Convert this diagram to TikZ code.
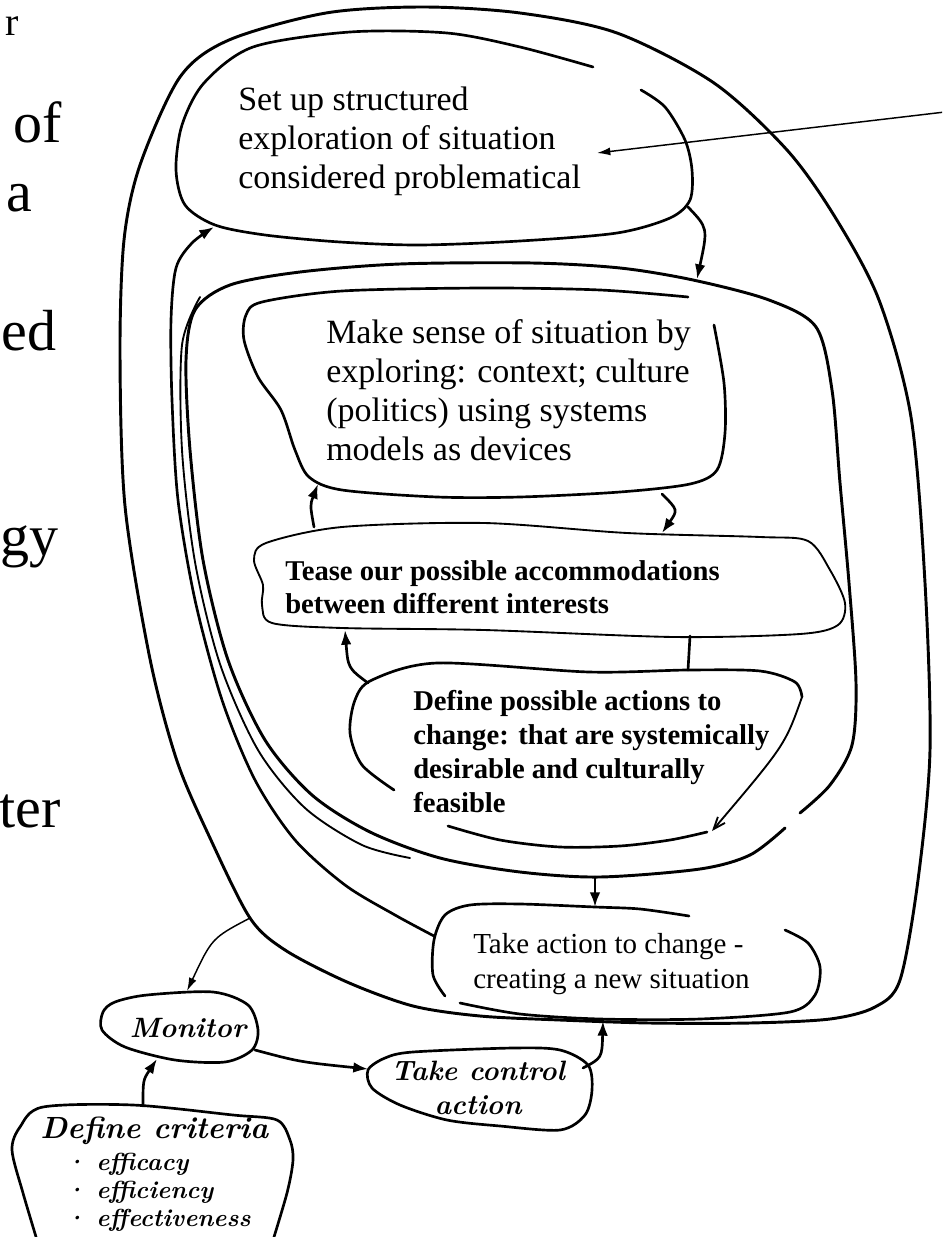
\documentclass[tikz,border=0pt]{standalone}
\usepackage{fontspec}
\newfontfamily\typefont{Liberation Serif}
\usetikzlibrary{arrows.meta}

\begin{document}
\begin{tikzpicture}[>=Latex, x=0.75pt, y=-0.75pt,
  loopline/.style={line width=2.2pt, line cap=round, line join=round},
  blob/.style={line width=2pt, line cap=round, line join=round},
  thinblob/.style={line width=1.4pt, line cap=round, line join=round},
  flow/.style={line width=2pt, line cap=round, -{Latex[length=11pt,width=8pt]}},
  pointer/.style={line width=1.1pt, -{Latex[length=10pt,width=6pt]}},
  typed/.style={anchor=north west, align=left, inner sep=0pt,
    font=\typefont\fontsize{25.5}{29.25}\selectfont},
  typedbold/.style={anchor=north west, align=left, inner sep=0pt,
    font=\typefont\bfseries\fontsize{21.5}{25}\selectfont},
  hand/.style={inner sep=0pt, font=\bfseries\itshape\fontsize{21}{25}\selectfont},
  fragment/.style={anchor=base east, inner sep=0pt,
    font=\typefont\fontsize{43.5}{50}\selectfont}]
  \useasboundingbox (0,0) rectangle (942,1237);
  \clip (0,0) rectangle (942,1237);
  \fill[white] (0,0) rectangle (942,1237);

  % cut-off words of the slide text on the left
  \node[fragment, anchor=base west, font=\typefont\fontsize{30}{34}\selectfont] (fragr) at (5,36) {r};
  \node[fragment] (fragof)  at (62,143) {of};
  \node[fragment] (fraga)   at (33,212) {a};
  \node[fragment] (fraged)  at (57,350) {ed};
  \node[fragment] (fraggy)  at (59,555) {gy};
  \node[fragment] (fragter) at (61,827) {ter};

  % outer loop
  \draw[loopline] plot[smooth cycle, tension=0.5] coordinates {
    (180,77) (229,40) (326,13) (423,7) (520,13) (617,33) (714,83) (787,150)
    (835,217) (879,300) (911,417) (925,583) (930,750) (918,880) (900,980)
    (875,1007) (830,1019) (750,1023) (650,1023) (560,1020) (480,1016) (413,1006)
    (347,982) (285,950) (250,918) (210,838) (177,761) (150,659) (125,506)
    (120,353) (124,240) (140,165)};

  % set up structured exploration
  \draw[blob] plot[smooth, tension=0.5] coordinates {
    (641,90) (665,107) (685,140) (692,170) (690,200) (670,218) (617,233)
    (520,241) (420,245) (340,242) (265,235) (215,225) (185,205) (176,170)
    (182,125) (204,83) (253,47) (350,32) (447,33) (520,47) (593,67)};
  \node[typed] (setup) at (238,87)
    {Set up structured\\exploration of situation\\considered problematical};

  % inner loop, doubled on its left side
  \draw[loopline] plot[smooth, tension=0.5] coordinates {
    (785,828) (750,855) (700,869) (600,877) (520,872) (440,858) (370,832)
    (312,795) (265,740) (228,660) (203,560) (190,450) (186,360) (195,310)
    (230,285) (300,272) (400,264) (532,263) (620,268) (693,280) (769,300)
    (816,327) (832,390) (840,483) (849,583) (856,683) (852,745) (830,785)
    (800,813)};
  \draw[thinblob] plot[smooth, tension=0.5] coordinates {
    (200,297) (182,345) (182,450) (195,562) (220,664) (258,750) (305,808)
    (362,845) (410,858)};

  % make sense of situation
  \draw[blob] plot[smooth, tension=0.5] coordinates {
    (714,325) (724,383) (725,433) (717,470) (690,484) (620,492) (520,497)
    (437,497) (342,490) (309,477) (295,450) (281,410) (258,377) (244,340)
    (246,315) (262,302) (342,291) (484,288) (600,290) (688,297)};
  \node[typed] (sense) at (326,319)
    {Make sense of situation by\\exploring: context; culture\\(politics) using systems\\models as devices};

  % tease out accommodations
  \draw[thinblob] plot[smooth cycle, tension=0.5] coordinates {
    (266,543) (342,527) (484,523) (627,533) (760,537) (808,541) (830,570)
    (845,603) (838,625) (800,634) (674,637) (484,630) (342,628) (272,623)
    (262,605) (263,585) (254,560)};
  \node[typedbold] (tease) at (285,560)
    {Tease our possible accommodations\\between different interests};

  % define possible actions
  \draw[blob] plot[smooth, tension=0.5] coordinates {
    (394,790) (362,765) (350,733) (355,700) (372,680) (437,663) (589,672)
    (688,670) (760,671) (795,682) (802,697)};
  \draw[blob] plot[smooth, tension=0.5] coordinates {
    (448,826) (500,840) (560,847) (620,846) (670,840) (707,832)};
  \node[typedbold, font=\typefont\bfseries\fontsize{21.5}{25.5}\selectfont] (define) at (413,690)
    {Define possible actions to\\change: that are systemically\\desirable and culturally\\feasible};

  % take action
  \draw[blob] plot[smooth, tension=0.5] coordinates {
    (689,916) (640,909) (595,907) (520,904) (470,905) (445,915) (434,940)
    (433,975) (445,996)};
  \draw[blob] plot[smooth, tension=0.5] coordinates {
    (460,1003) (520,1014) (600,1019) (700,1019) (790,1012) (815,995) (820,967)
    (808,943) (785,930)};
  \node[typed, font=\typefont\fontsize{21.75}{26.25}\selectfont] (action) at (473,933)
    {Take action to change -\\creating a new situation};

  % control loop
  \draw[blob] plot[smooth cycle, tension=0.5] coordinates {
    (115,1002) (147,995) (213,992) (248,1005) (258,1030) (252,1050) (225,1062)
    (175,1060) (125,1047) (102,1030) (103,1012)};
  \node[hand] (monitor) at (188,1028) {Monitor};
  \draw[blob] plot[smooth cycle, tension=0.5] coordinates {
    (368,1070) (385,1058) (413,1052) (513,1048) (560,1050) (588,1065) (592,1090)
    (585,1115) (560,1130) (500,1126) (447,1120) (400,1105) (372,1088)};
  \node[hand, align=center] (control) at (478,1088)
    {Take control\\action};
  \draw[blob] plot[smooth, tension=0.5] coordinates {
    (40,1250) (23,1193) (12,1150) (20,1127) (43,1107) (133,1105) (233,1115)
    (277,1120) (290,1140) (293,1160) (287,1193) (270,1250)};
  \node[hand, anchor=west, font=\bfseries\itshape\fontsize{23}{26}\selectfont] (criteria) at (40,1131)
    {Define criteria};
  \node[hand, anchor=north west, align=left, font=\bfseries\itshape\fontsize{18.5}{21}\selectfont] (measures) at (64,1153)
    {\textperiodcentered\ efficacy\\\textperiodcentered\ efficiency\\\textperiodcentered\ effectiveness};

  % connector ends
  \coordinate (farright) at (945,112);
  \coordinate (setupin)  at (597,153);
  \coordinate (setupout) at (688,207);
  \coordinate (innerin)  at (697,279);
  \coordinate (backout)  at (434,936);
  \coordinate (setupsw)  at (214,227);
  \coordinate (senseout) at (662,494);
  \coordinate (teasein)  at (662,533);
  \coordinate (teaseout) at (314,527);
  \coordinate (sensein)  at (318,484);
  \coordinate (defout)   at (368,683);
  \coordinate (teasebot) at (345,630);
  \coordinate (teasedn)  at (690,636);
  \coordinate (defin)    at (688,670);
  \coordinate (defne)    at (802,697);
  \coordinate (defse)    at (712,831);
  \coordinate (innerout) at (595,877);
  \coordinate (actiontop) at (595,907);
  \coordinate (outertap) at (250,918);
  \coordinate (montop)   at (187,991);
  \coordinate (moneast)  at (255,1050);
  \coordinate (ctrlwest) at (368,1069);
  \coordinate (ctrlne)   at (583,1068);
  \coordinate (actionbot) at (603,1021);
  \coordinate (crittop)  at (143,1106);
  \coordinate (monbot)   at (157,1059);

  \draw[pointer] (farright) -- (setupin);
  \draw[flow] (setupout) .. controls (708,228) .. (innerin);
  \draw[flow] plot[smooth, tension=0.5] coordinates {
    (backout) (395,915) (345,885) (295,840) (255,780) (222,700) (195,600)
    (178,500) (172,400) (171,320) (176,268) (192,243) (setupsw)};
  \draw[flow] (senseout) .. controls (678,510) .. (teasein);
  \draw[flow] (teaseout) .. controls (310,505) .. (sensein);
  \draw[flow] (defout) .. controls (348,668) .. (teasebot);
  \draw[blob] (teasedn) -- (defin);
  \draw[thinblob, -{Straight Barb[length=9pt,width=7pt]}] (defne) .. controls (785,745) .. (defse);
  \draw[flow] (innerout) -- (actiontop);
  \draw[pointer] (outertap) .. controls (212,938) .. (montop);
  \draw[flow] (moneast) .. controls (300,1062) .. (ctrlwest);
  \draw[flow] (ctrlne) .. controls (602,1058) .. (actionbot);
  \draw[flow] (crittop) .. controls (143,1080) .. (monbot);
\end{tikzpicture}
\end{document}
